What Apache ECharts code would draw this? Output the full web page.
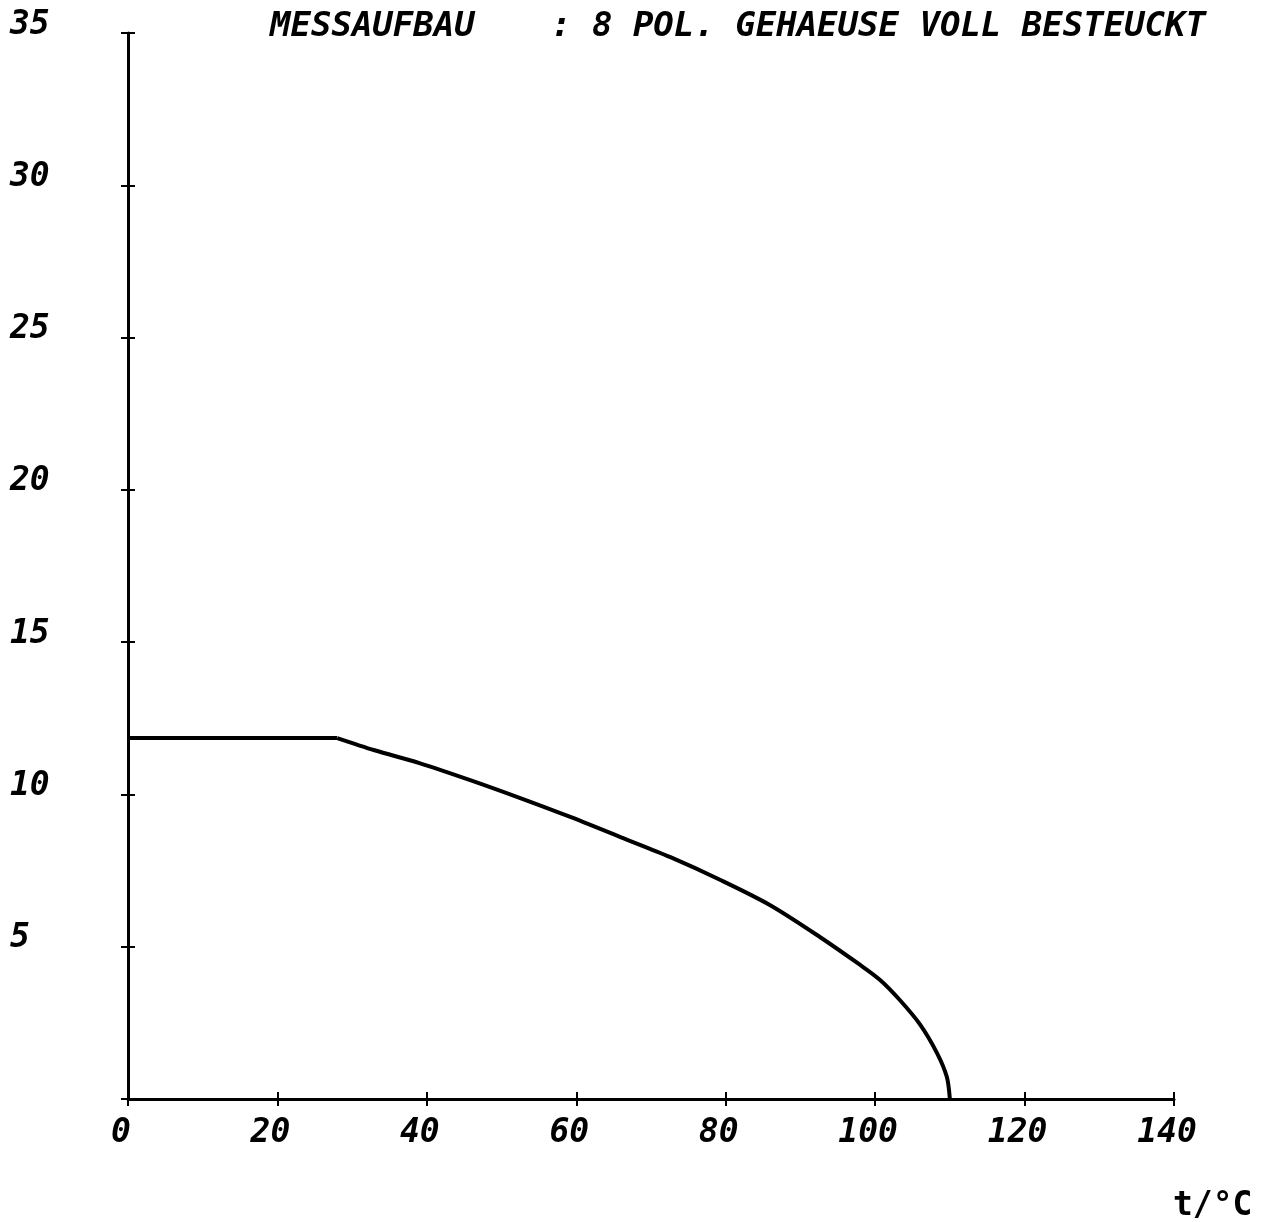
<!DOCTYPE html>
<html>
<head>
<meta charset="utf-8">
<script src="https://cdn.jsdelivr.net/npm/echarts@6/dist/echarts.min.js"></script>
<style>
html,body{margin:0;padding:0;background:#fff;}
#c{width:1278px;height:1222px;}
</style>
</head>
<body>
<div id="c"></div>
<script>
const titleLeft = "MESSAUFBAU";
const titleRight = ": 8 POL. GEHAEUSE VOLL BESTEUCKT";
const xName = "t/°C";
const xTicks = [0, 20, 40, 60, 80, 100, 120, 140];
const yTicks = [0, 5, 10, 15, 20, 25, 30, 35];
const temps  = [0, 28, 33, 39, 45.8, 52.5, 59.2, 65.9, 72.6, 79.3, 85.9, 92.6, 98, 100.7, 103.3, 106, 108.3, 109.6, 110];
const values = [11.85, 11.85, 11.45, 11.03, 10.47, 9.88, 9.26, 8.6, 7.94, 7.19, 6.37, 5.32, 4.4, 3.9, 3.25, 2.45, 1.5, 0.72, 0];

const FONT = '"DejaVu Sans Mono","Liberation Mono",monospace';
const chart = echarts.init(document.getElementById('c'), null, {renderer: 'canvas'});
const lbl = {fontFamily: FONT, fontStyle: 'italic', fontWeight: 'bold', fontSize: 33, color: '#000'};
const axisLine = {show: true, lineStyle: {color: '#000', width: 3}};
const pts = temps.map((t, i) => [t, values[i]]);
chart.setOption({
  animation: false,
  backgroundColor: '#fff',
  title: [
    {text: titleLeft, left: 270, top: 10, padding: 0, textStyle: Object.assign({}, lbl, {fontSize: 34})},
    {text: titleRight, left: 551, top: 10, padding: 0, textStyle: Object.assign({}, lbl, {fontSize: 34})},
    {text: xName, left: 1173, top: 1190, padding: 0, textStyle: {fontFamily: FONT, fontWeight: 'bold', fontSize: 33, color: '#000'}}
  ],
  grid: {left: 128, right: 104, top: 33, bottom: 123, containLabel: false},
  xAxis: [
    {type: 'value', min: xTicks[0], max: xTicks[xTicks.length - 1], interval: 20,
     axisLine: axisLine, splitLine: {show: false},
     axisTick: {show: true, length: 7, lineStyle: {color: '#000', width: 2}},
     axisLabel: Object.assign({margin: 18, padding: [0, 14, 0, 0]}, lbl)},
    {type: 'value', position: 'bottom', min: xTicks[0], max: xTicks[xTicks.length - 1], interval: 20,
     axisLine: {show: false}, splitLine: {show: false},
     axisTick: {show: true, inside: true, length: 7, lineStyle: {color: '#000', width: 2}},
     axisLabel: {show: false}}
  ],
  yAxis: [
    {type: 'value', min: yTicks[0], max: yTicks[yTicks.length - 1], interval: 5,
     axisLine: axisLine, splitLine: {show: false},
     axisTick: {show: true, length: 7, lineStyle: {color: '#000', width: 2}},
     axisLabel: Object.assign({margin: 118, align: 'left', verticalAlign: 'bottom', lineHeight: 16,
       formatter: v => v === 0 ? '' : String(v)}, lbl)},
    {type: 'value', position: 'left', min: yTicks[0], max: yTicks[yTicks.length - 1], interval: 5,
     axisLine: {show: false}, splitLine: {show: false},
     axisTick: {show: true, inside: true, length: 7, lineStyle: {color: '#000', width: 2}},
     axisLabel: {show: false}}
  ],
  series: [
    {type: 'line', data: pts.slice(0, 2), showSymbol: false, smooth: false,
     lineStyle: {color: '#000', width: 4}, clip: false},
    {type: 'line', data: pts.slice(1), showSymbol: false, smooth: 0.3,
     lineStyle: {color: '#000', width: 4}, clip: false}
  ]
});
</script>
</body>
</html>
